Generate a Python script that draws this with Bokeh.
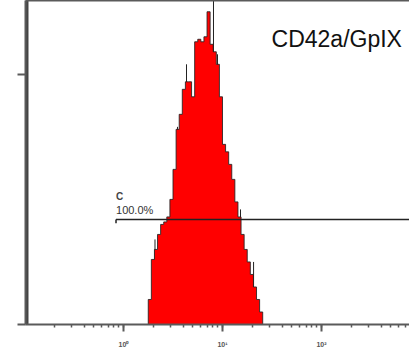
from bokeh.plotting import figure
from bokeh.models import LogAxis, FixedTicker, Label, CustomJSTickFormatter
from bokeh.embed import file_html
from bokeh.resources import INLINE

# ---- data ----
# histogram channels (32 channels per decade) and their event counts
channels = [8, 9, 10, 11, 12, 13, 14, 15, 16, 17, 18, 19, 20, 21, 22, 23, 24, 25, 26,
            27, 28, 29, 30, 31, 32, 33, 34, 35, 36, 37, 38, 39, 40, 41, 42, 43, 44]
counts = [10, 26, 30, 36, 40, 41, 43, 50, 62, 78, 84, 94, 97, 97, 91, 113, 114, 113, 115,
          125, 112, 109, 104, 91, 72, 69, 64, 58, 49, 43, 36, 30, 25, 20, 15, 10, 5]
# narrow spikes of the outline (intensity, count)
spike_x = [2.08, 3.51, 4.33, 8.11, 8.9, 15.2, 20.6]
spike_y = [34, 79, 104, 140, 108, 46, 25]
# gate "C"
gate_start = 0.84
gate_level = 42
gate_name = "C"
gate_pct = "100.0%"
title_text = "CD42a/GpIX"
y_tick_values = [0, 100]

# ---- derived bin edges / outline ----
CH_PER_DECADE = 32
lo = [10 ** (c / CH_PER_DECADE) for c in channels]
hi = [10 ** ((c + 1) / CH_PER_DECADE) for c in channels]

xs, ys = [lo[0]], [0]
for l, h, c in zip(lo, hi, counts):
    xs += [l, h]
    ys += [c, c]
xs.append(hi[-1])
ys.append(0)

AX = "#5a5a5a"
blank = CustomJSTickFormatter(code="return '';")
X_START, X_END = 10 ** -0.99, 10 ** 2.889
Y_START, Y_END = 0, 129.5

p = figure(width=409, height=355, x_axis_type="log",
           x_range=(X_START, X_END), y_range=(Y_START, Y_END),
           output_backend="svg", toolbar_location=None,
           min_border_left=25, min_border_right=0, min_border_top=0, min_border_bottom=31)
p.outline_line_color = None
p.xgrid.visible = False
p.ygrid.visible = False
p.background_fill_color = "white"
p.border_fill_color = "white"

# bottom axis
xa = p.xaxis[0]
xa.axis_line_color = AX
xa.axis_line_width = 2
xa.major_tick_line_color = AX
xa.major_tick_line_width = 2
xa.major_tick_out = 7
xa.major_tick_in = 0
xa.minor_tick_line_color = AX
xa.minor_tick_line_width = 1.5
xa.minor_tick_out = 3
xa.minor_tick_in = 0
xa.formatter = CustomJSTickFormatter(code="""
const e = Math.round(Math.log10(tick));
const sup = {'-1':'\u207b\u00b9','0':'\u2070','1':'\u00b9','2':'\u00b2','3':'\u00b3'};
return '10' + sup[String(e)];
""")
xa.major_label_text_font = "Liberation Sans"
xa.major_label_text_font_size = "7px"
xa.major_label_text_font_style = "bold"
xa.major_label_text_color = "#555555"
xa.major_label_standoff = 9

# left axis
ya = p.yaxis[0]
ya.ticker = FixedTicker(ticks=y_tick_values)
ya.formatter = blank
ya.axis_line_color = AX
ya.axis_line_width = 2
ya.major_tick_line_color = AX
ya.major_tick_line_width = 2
ya.major_tick_out = 8
ya.major_tick_in = 0
ya.minor_tick_line_color = None

# top border
top = LogAxis(ticker=FixedTicker(ticks=[]), formatter=blank, axis_line_color=AX,
              axis_line_width=2, major_tick_out=0, major_tick_in=0,
              minor_tick_out=0, minor_tick_in=0, major_label_standoff=0)
p.add_layout(top, "above")

# left frame edge drawn as a glyph (just inside the frame)
edge_x = X_START * 10 ** (1.5 / 99)
p.segment(x0=[edge_x], y0=[Y_START], x1=[edge_x], y1=[Y_END],
          line_color="#444444", line_width=3)

# spikes (under the fill)
p.segment(x0=spike_x, y0=[0] * len(spike_x), x1=spike_x, y1=spike_y,
          line_color="#222222", line_width=1)
# histogram fill as one shape (no seams)
p.patch(xs, ys, fill_color="#ff0000", line_color=None)
# outline
p.line(xs, ys, line_color="#222222", line_width=1, line_alpha=0.85)

# gate
p.segment(x0=[gate_start], y0=[gate_level], x1=[1e4], y1=[gate_level],
          line_color="#222222", line_width=1.5)
p.segment(x0=[gate_start], y0=[gate_level], x1=[gate_start], y1=[gate_level - 1.5],
          line_color="#222222", line_width=1.5)
p.add_layout(Label(x=gate_start, y=gate_level + 6.8, text=gate_name,
                   text_font="Liberation Sans", text_font_size="10px",
                   text_font_style="bold", text_color="#444444"))
p.add_layout(Label(x=gate_start, y=gate_level + 1.4, text=gate_pct,
                   text_font="Liberation Sans", text_font_size="11px",
                   text_color="#333333"))

# title text
p.add_layout(Label(x=31.3, y=109, text=title_text, text_font="Liberation Sans",
                   text_font_size="23px", text_color="#111111"))

open("out.html", "w").write(file_html(p, INLINE))
